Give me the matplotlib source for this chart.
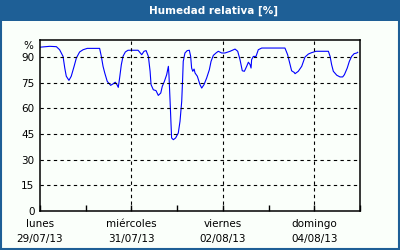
import matplotlib.pyplot as plt
import matplotlib.dates as mdates
import pandas as pd

# horas desde el lunes 29/07/13 00:00 y humedad relativa (%)
horas = [0.0, 5.1, 8.6, 10.3, 12.1, 13.0, 13.8, 15.2, 16.4, 17.9, 19.1, 20.8,
         22.6, 24.8, 31.3, 32.2, 33.1, 34.0, 35.3, 37.1, 38.3, 39.5, 40.4, 41.1,
         41.8, 42.7, 43.6, 44.8, 46.2, 51.5, 53.4, 54.6, 55.7, 56.9, 57.8, 58.3,
         59.5, 60.9, 62.1, 63.4, 64.2, 65.3, 66.5, 67.4, 67.7, 68.3, 68.8, 69.1,
         70.0, 71.2, 72.6, 73.5, 74.4, 74.9, 75.2, 76.1, 77.3, 78.4, 79.1, 79.6,
         80.2, 80.9, 81.4, 82.6, 84.0, 84.9, 86.1, 87.5, 88.9, 89.8, 91.0, 92.4,
         93.6, 95.4, 97.1, 99.8, 102.4, 103.8, 105.0, 106.2, 107.3, 108.5, 109.4,
         110.3, 110.8, 111.1, 112.0, 113.4, 114.6, 116.4, 128.6, 130.0, 131.3,
         132.1, 133.5, 133.9, 135.6, 137.4, 139.1, 140.9, 142.6, 144.9, 151.4,
         152.3, 153.1, 154.0, 155.8, 157.5, 158.9, 159.8, 161.3, 162.4, 163.6,
         164.9, 166.3, 166.8]
humedad = [95.8, 96.3, 96.1, 94.3, 90.4, 83.6, 78.8, 76.4, 78.8, 84.6, 89.5, 93.0,
           94.3, 95.1, 95.1, 90.4, 84.6, 80.7, 75.8, 73.5, 74.3, 75.3, 73.9, 72.3,
           77.8, 85.6, 90.5, 93.0, 94.0, 94.0, 91.4, 93.4, 93.8, 90.4, 81.7, 73.9,
           70.9, 70.4, 67.6, 69.0, 72.9, 75.8, 79.7, 84.6, 79.7, 64.1, 50.5, 42.7,
           41.7, 42.7, 45.6, 52.4, 64.1, 77.8, 87.5, 92.4, 93.8, 94.0, 90.4, 83.6,
           81.7, 83.0, 80.7, 78.8, 73.9, 71.9, 73.9, 77.8, 82.6, 87.5, 91.0, 92.4,
           93.4, 92.4, 92.4, 93.4, 94.7, 93.4, 88.5, 82.0, 81.7, 84.6, 87.0,
           85.6, 83.6, 88.5, 90.4, 90.4, 94.3, 95.3, 95.3, 91.4, 85.6,
           82.0, 81.0, 80.3, 81.7, 84.6, 90.0, 91.8, 92.6, 93.4, 93.4,
           90.4, 85.6, 81.7, 79.4, 78.4, 78.4, 79.7, 83.6, 87.5, 90.4,
           92.0, 92.4, 92.8]

inicio = pd.Timestamp("2013-07-29")
fin = pd.Timestamp("2013-08-05")
dias_etiqueta = ["2013-07-29", "2013-07-31", "2013-08-02", "2013-08-04"]
nombres_dia = ["lunes", "miércoles", "viernes", "domingo"]
y_ticks = [0, 15, 30, 45, 60, 75, 90]

tiempos = inicio + pd.to_timedelta(horas, unit="h")

azul = "#1e5f96"
fondo = "#fafffa"

fig = plt.figure(figsize=(4, 2.5), dpi=100, facecolor=fondo)

# barra de título y marco
fig.patches.append(plt.Rectangle((0, 0.918), 1, 0.082, transform=fig.transFigure,
                                 facecolor=azul, edgecolor="none"))
fig.patches.append(plt.Rectangle((0.0025, 0.004), 0.995, 0.99, transform=fig.transFigure,
                                 facecolor="none", edgecolor=azul, linewidth=1.5))
fig.text(0.533, 0.958, "Humedad relativa [%]", color="white", fontsize=7.5,
         fontweight="bold", ha="center", va="center")

ax = fig.add_axes([0.1, 0.156, 0.8, 0.684], facecolor=fondo)
ax.plot(tiempos, humedad, color="#0000ff", linewidth=0.8)

ax.set_xlim(inicio, fin)
ax.set_ylim(0, 100)

# rejilla
for y in y_ticks[1:]:
    ax.axhline(y, color="black", linewidth=0.8, linestyle=(0, (3, 3)))
for d in dias_etiqueta[1:]:
    ax.axvline(pd.Timestamp(d), color="black", linewidth=0.8, linestyle=(0, (3, 3)))

ax.set_yticks(y_ticks)
ax.tick_params(axis="y", length=0, pad=4, labelsize=7.5)
ax.text(-0.02, 0.965, "%", transform=ax.transAxes, ha="right", va="center", fontsize=7.5)

ax.set_xticks([pd.Timestamp(d) for d in dias_etiqueta])
ax.set_xticklabels([f"{n}\n{pd.Timestamp(d):%d/%m/%y}" for n, d in zip(nombres_dia, dias_etiqueta)],
                   linespacing=1.6)
ax.xaxis.set_minor_locator(mdates.DayLocator())
ax.tick_params(axis="x", which="both", direction="in", length=4, width=1,
               pad=6, labelsize=7.5)

for s in ax.spines.values():
    s.set_linewidth(1.1)

fig.savefig("out.png", dpi=100, facecolor=fondo)
